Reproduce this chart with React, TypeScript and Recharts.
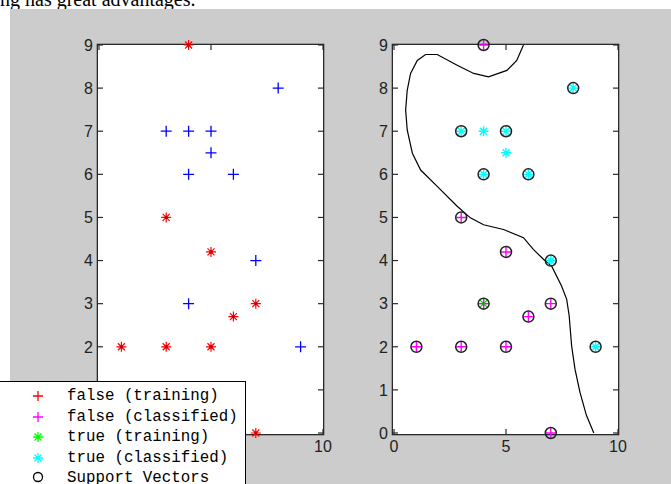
import React from "react";
import {
  Scatter,
  ScatterChart,
  XAxis,
  YAxis,
} from "recharts";

type Pt = { x: number; y: number };

// left panel: training data
const falseTraining: Pt[] = [
  { x: 4, y: 9 }, { x: 3, y: 5 }, { x: 5, y: 4.2 }, { x: 7, y: 3 }, { x: 6, y: 2.7 },
  { x: 1, y: 2 }, { x: 3, y: 2 }, { x: 5, y: 2 }, { x: 7, y: 0 },
];
const trueTraining: Pt[] = [
  { x: 8, y: 8 }, { x: 3, y: 7 }, { x: 4, y: 7 }, { x: 5, y: 7 }, { x: 5, y: 6.5 },
  { x: 4, y: 6 }, { x: 6, y: 6 }, { x: 7, y: 4 }, { x: 4, y: 3 }, { x: 9, y: 2 },
];

// right panel: classified data
const falseClassified: Pt[] = [...falseTraining, { x: 4, y: 3 }];
const trueClassified: Pt[] = trueTraining.filter((p) => !(p.x === 4 && p.y === 3));
const misclassified: Pt[] = [{ x: 4, y: 3 }];
const supportVectors: Pt[] = [
  ...falseClassified,
  { x: 8, y: 8 }, { x: 3, y: 7 }, { x: 5, y: 7 }, { x: 4, y: 6 }, { x: 6, y: 6 },
  { x: 7, y: 4 }, { x: 9, y: 2 },
];

// decision boundary
const boundary: Pt[] = [
  { x: 5.78, y: 9 }, { x: 5.48, y: 8.64 }, { x: 5.04, y: 8.41 }, { x: 4.22, y: 8.26 },
  { x: 3.56, y: 8.34 }, { x: 2.82, y: 8.53 }, { x: 1.93, y: 8.78 }, { x: 1.41, y: 8.78 },
  { x: 1.04, y: 8.64 }, { x: 0.74, y: 8.34 }, { x: 0.59, y: 7.95 }, { x: 0.52, y: 7.49 },
  { x: 0.59, y: 7.03 }, { x: 0.82, y: 6.49 }, { x: 1.19, y: 6.1 }, { x: 1.93, y: 5.72 },
  { x: 2.82, y: 5.26 }, { x: 3.41, y: 4.99 }, { x: 4.0, y: 4.83 }, { x: 4.89, y: 4.72 },
  { x: 5.78, y: 4.53 }, { x: 6.22, y: 4.26 }, { x: 6.67, y: 4.03 }, { x: 7.04, y: 3.87 },
  { x: 7.48, y: 3.41 }, { x: 7.71, y: 3.1 }, { x: 7.82, y: 2.72 }, { x: 7.93, y: 2.02 },
  { x: 8.08, y: 1.48 }, { x: 8.3, y: 0.95 }, { x: 8.59, y: 0.41 }, { x: 8.92, y: 0 },
];

const xTicks = [0, 5, 10];
const yTicks = [0, 1, 2, 3, 4, 5, 6, 7, 8, 9];

const legendItems = [
  { label: "false (training)", marker: "plus", color: "#ff0000" },
  { label: "false (classified)", marker: "plus", color: "#ff00ff" },
  { label: "true (training)", marker: "star", color: "#00ff00" },
  { label: "true (classified)", marker: "star", color: "#00ffff" },
  { label: "Support Vectors", marker: "circle", color: "#000000" },
];

const FRAME = "#2a2a2a";
const TOP = 45;
const PW = 225;
const PH = 389;
const TICK = 5;

const plusPath = (cx: number, cy: number, r: number) =>
  `M${cx - r},${cy}H${cx + r}M${cx},${cy - r}V${cy + r}`;
const starPath = (cx: number, cy: number, r: number) => {
  const d = r * 0.7;
  return `${plusPath(cx, cy, r)}M${cx - d},${cy - d}L${cx + d},${cy + d}M${cx - d},${cy + d}L${cx + d},${cy - d}`;
};

const plusShape = (color: string, r = 5.5, w = 1.3) => (p: any) => (
  <path d={plusPath(p.cx, p.cy, r)} stroke={color} strokeWidth={w} fill="none" />
);
const starShape = (color: string, r = 5, w = 1.2, core?: string) => (p: any) => (
  <g>
    <path d={starPath(p.cx, p.cy, r)} stroke={color} strokeWidth={w} fill="none" />
    {core && <circle cx={p.cx} cy={p.cy} r={1.6} fill={core} />}
  </g>
);
const circleShape = (p: any) => (
  <circle cx={p.cx} cy={p.cy} r={5.5} stroke="#222" strokeWidth={1.5} fill="none" />
);
const noShape = () => <g />;

const labelStyle = { fontFamily: "Liberation Sans", fontSize: 16, fill: "#222" };

// ticks point inwards on both sides of the box, like matlab
const yTick = (left: number) => (p: any) => (
  <g>
    <line x1={left} x2={left + TICK} y1={p.y} y2={p.y} stroke={FRAME} strokeWidth={1.2} />
    <line x1={left + PW - TICK} x2={left + PW} y1={p.y} y2={p.y} stroke={FRAME} strokeWidth={1.2} />
    <text x={p.x} y={p.y} dy="0.36em" textAnchor="end" {...labelStyle}>{p.payload.value}</text>
  </g>
);
const xTick = (p: any) => (
  <g>
    <line x1={p.x} x2={p.x} y1={TOP} y2={TOP + TICK} stroke={FRAME} strokeWidth={1.2} />
    <line x1={p.x} x2={p.x} y1={TOP + PH - TICK} y2={TOP + PH} stroke={FRAME} strokeWidth={1.2} />
    <text x={p.x} y={p.y} dy="0.72em" textAnchor="middle" {...labelStyle}>{p.payload.value}</text>
  </g>
);

function Panel({ left, children }: { left: number; children: React.ReactNode }) {
  return (
    <>
      <div style={{ position: "absolute", left, top: TOP, width: PW, height: PH, background: "#fff", boxShadow: `0 0 0 1.3px ${FRAME}` }} />
      <div style={{ position: "absolute", left: 0, top: 0 }}>
        <ScatterChart width={671} height={484} margin={{ top: TOP, left, right: 671 - left - PW, bottom: 484 - TOP - PH }}>
          <XAxis xAxisId="b" dataKey="x" type="number" domain={[0, 10]} ticks={xTicks}
            height={1} axisLine={false} tickLine={false} tickSize={5} tickMargin={2} tick={xTick} />
          <YAxis yAxisId="l" dataKey="y" type="number" domain={[0, 9]} ticks={yTicks}
            width={1} axisLine={false} tickLine={false} tickSize={4} tickMargin={2} tick={yTick(left)} />
          {children}
        </ScatterChart>
      </div>
    </>
  );
}

export default function App() {
  return (
    <div style={{ position: "fixed", left: 0, top: 0, width: 671, height: 484, background: "#fff", overflow: "hidden" }}>
      <div style={{ position: "absolute", left: 0, top: -11, fontFamily: "Liberation Serif", fontSize: 20, lineHeight: "20px", color: "#000", whiteSpace: "nowrap" }}>
        ng has great advantages.
      </div>
      <div style={{ position: "absolute", left: 10, top: 9, width: 661, height: 475, background: "#cccccc" }} />

      <Panel left={98}>
        <Scatter data={trueTraining} xAxisId="b" yAxisId="l" shape={plusShape("#0000ff")} isAnimationActive={false} />
        <Scatter data={falseTraining} xAxisId="b" yAxisId="l" shape={starShape("#ff0000", 5, 1.2, "#cc0000")} isAnimationActive={false} />
      </Panel>

      <Panel left={393}>
        <Scatter data={boundary} xAxisId="b" yAxisId="l" line={{ stroke: "#000", strokeWidth: 1.2 }}
          lineType="joint" shape={noShape} isAnimationActive={false} />
        <Scatter data={misclassified} xAxisId="b" yAxisId="l" shape={starShape("#00cc00", 5, 1.2)} isAnimationActive={false} />
        <Scatter data={falseClassified} xAxisId="b" yAxisId="l" shape={plusShape("#ff00ff", 5, 1.4)} isAnimationActive={false} />
        <Scatter data={trueClassified} xAxisId="b" yAxisId="l" shape={starShape("#00ffff", 5, 1.4)} isAnimationActive={false} />
        <Scatter data={supportVectors} xAxisId="b" yAxisId="l" shape={circleShape} isAnimationActive={false} />
      </Panel>

      <div style={{ position: "absolute", left: -1, top: 381, width: 247, height: 120, background: "#fff", border: "1px solid #000", boxSizing: "border-box" }}>
        {legendItems.map((it, i) => (
          <div key={it.label} style={{ position: "absolute", left: 0, top: 4 + i * 20.5, height: 20, width: 246 }}>
            <svg width={20} height={20} style={{ position: "absolute", left: 28, top: 0 }}>
              {it.marker === "plus" && <path d={plusPath(10, 10, 5)} stroke={it.color} strokeWidth={1.3} fill="none" />}
              {it.marker === "star" && <path d={starPath(10, 10, 5)} stroke={it.color} strokeWidth={1.3} fill="none" />}
              {it.marker === "circle" && <circle cx={10} cy={9} r={4.5} stroke="#000" strokeWidth={1.3} fill="none" />}
            </svg>
            <span style={{ position: "absolute", left: 67, top: 0, lineHeight: "20px", fontFamily: "Liberation Mono", fontSize: 15.8, color: "#000", whiteSpace: "nowrap" }}>
              {it.label}
            </span>
          </div>
        ))}
      </div>
    </div>
  );
}
